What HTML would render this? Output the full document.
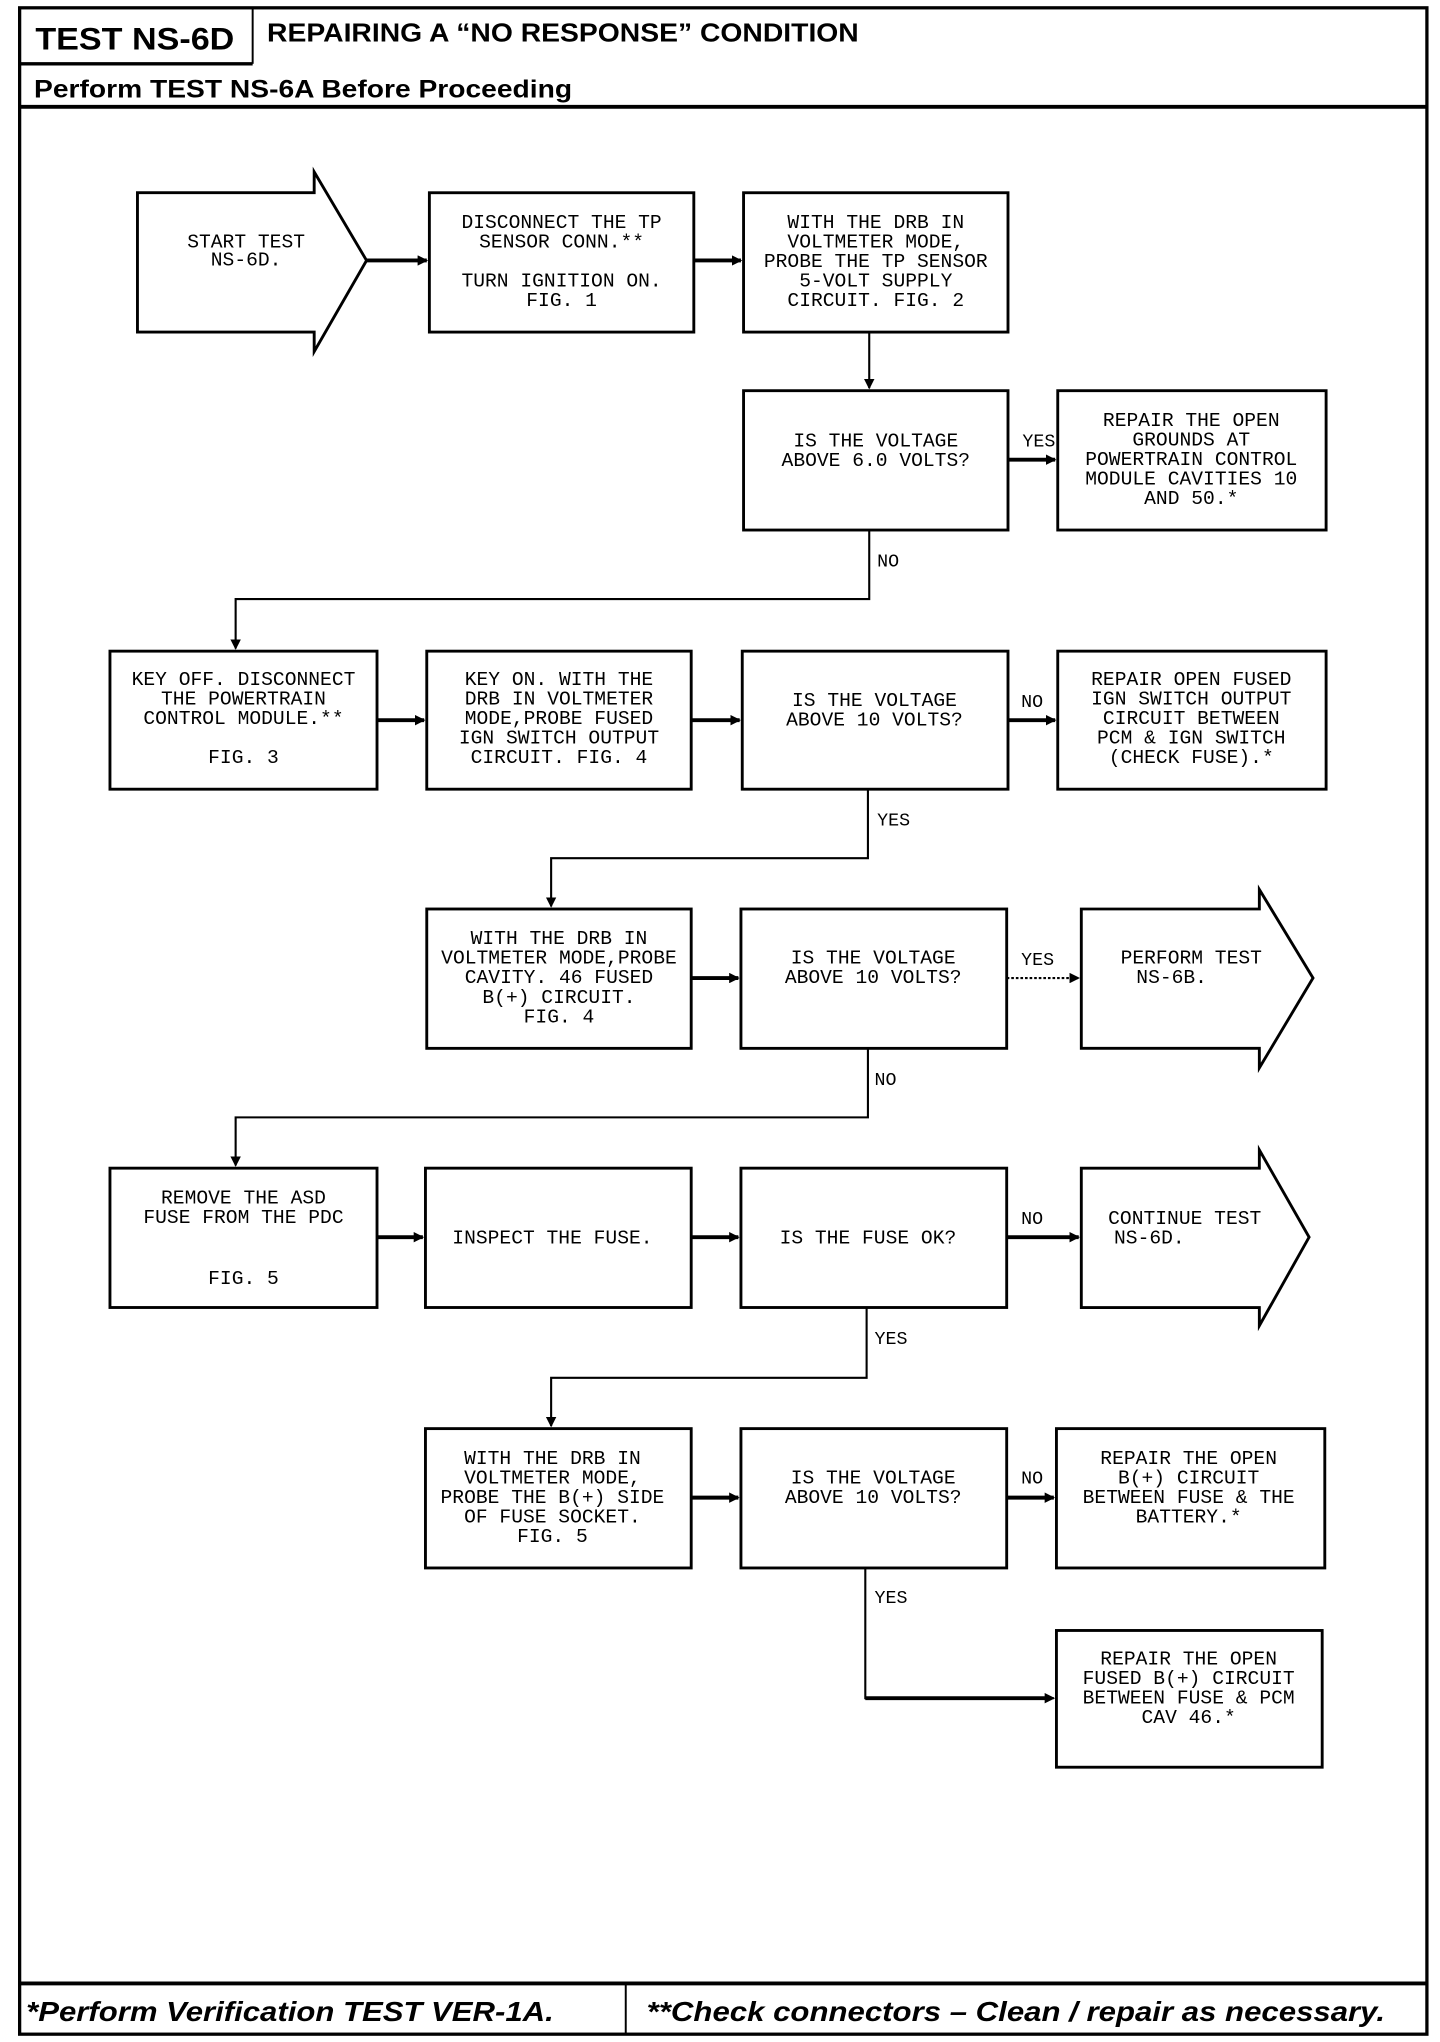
<!DOCTYPE html>
<html><head><meta charset="utf-8"><style>
html,body{margin:0;padding:0;background:#fff;width:1440px;height:2042px;overflow:hidden}
svg{display:block}
.t{font-family:"Liberation Mono",monospace;font-size:15px;text-anchor:middle;fill:#000}
.l{font-family:"Liberation Mono",monospace;font-size:14px;fill:#000}
.b{fill:#fff;stroke:#000;stroke-width:2.2}
.c{fill:none;stroke:#000;stroke-width:1.6}
.a{fill:none;stroke:#000;stroke-width:3}
</style></head><body>
<svg width="1440" height="2042" viewBox="0 0 1100 1568" preserveAspectRatio="none" xmlns="http://www.w3.org/2000/svg">
<defs><marker id="ar" markerWidth="8" markerHeight="8" refX="7" refY="4" orient="auto" markerUnits="userSpaceOnUse"><path d="M0,0 L8,4 L0,8 z" fill="#000"/></marker></defs>
<!-- frame -->
<rect x="15" y="6" width="1075" height="1556" fill="none" stroke="#000" stroke-width="2.5"/>
<line x1="15" y1="49" x2="193" y2="49" stroke="#000" stroke-width="2.5"/>
<line x1="193" y1="6" x2="193" y2="49" stroke="#000" stroke-width="1.5"/>
<line x1="15" y1="82" x2="1090" y2="82" stroke="#000" stroke-width="3"/>
<line x1="15" y1="1523" x2="1090" y2="1523" stroke="#000" stroke-width="3"/>
<line x1="478" y1="1523" x2="478" y2="1562" stroke="#000" stroke-width="1.5"/>
<text x="27" y="38" font-family="Liberation Sans,sans-serif" font-weight="bold" font-size="24" textLength="152" lengthAdjust="spacingAndGlyphs">TEST NS-6D</text>
<text x="204" y="32" font-family="Liberation Sans,sans-serif" font-weight="bold" font-size="20" textLength="452" lengthAdjust="spacingAndGlyphs">REPAIRING A “NO RESPONSE” CONDITION</text>
<text x="26" y="75" font-family="Liberation Sans,sans-serif" font-weight="bold" font-size="19" textLength="411" lengthAdjust="spacingAndGlyphs">Perform TEST NS-6A Before Proceeding</text>
<text x="20" y="1552" font-family="Liberation Sans,sans-serif" font-weight="bold" font-style="italic" font-size="21" textLength="403" lengthAdjust="spacingAndGlyphs">*Perform Verification TEST VER-1A.</text>
<text x="494" y="1552" font-family="Liberation Sans,sans-serif" font-weight="bold" font-style="italic" font-size="21" textLength="564" lengthAdjust="spacingAndGlyphs">**Check connectors – Clean / repair as necessary.</text>

<!-- connectors -->
<line class="a" x1="280" y1="200" x2="326" y2="200" marker-end="url(#ar)"/>
<line class="a" x1="530" y1="200" x2="566" y2="200" marker-end="url(#ar)"/>
<polyline class="c" points="664,255 664,298" marker-end="url(#ar)"/>
<line class="a" x1="770" y1="353" x2="806" y2="353" marker-end="url(#ar)"/>
<polyline class="c" points="664,407 664,460 180,460 180,498" marker-end="url(#ar)"/>
<line class="a" x1="288" y1="553" x2="324" y2="553" marker-end="url(#ar)"/>
<line class="a" x1="528" y1="553" x2="565" y2="553" marker-end="url(#ar)"/>
<line class="a" x1="770" y1="553" x2="806" y2="553" marker-end="url(#ar)"/>
<polyline class="c" points="663,606 663,659 421,659 421,696" marker-end="url(#ar)"/>
<line class="a" x1="528" y1="751" x2="564" y2="751" marker-end="url(#ar)"/>
<line class="c" x1="769" y1="751" x2="824" y2="751" stroke-dasharray="2,1.5" marker-end="url(#ar)"/>
<polyline class="c" points="663,805 663,858 180,858 180,895" marker-end="url(#ar)"/>
<line class="a" x1="288" y1="950" x2="323" y2="950" marker-end="url(#ar)"/>
<line class="a" x1="528" y1="950" x2="564" y2="950" marker-end="url(#ar)"/>
<line class="a" x1="769" y1="950" x2="824" y2="950" marker-end="url(#ar)"/>
<polyline class="c" points="662,1004 662,1058 421,1058 421,1095" marker-end="url(#ar)"/>
<line class="a" x1="528" y1="1150" x2="564" y2="1150" marker-end="url(#ar)"/>
<line class="a" x1="769" y1="1150" x2="805" y2="1150" marker-end="url(#ar)"/>
<polyline class="c" points="661,1204 661,1304 805,1304" marker-end="url(#ar)"/>
<polyline class="a" points="661,1304 803,1304"/>

<!-- labels -->
<text class="l" x="781" y="343">YES</text>
<text class="l" x="670" y="435">NO</text>
<text class="l" x="780" y="543">NO</text>
<text class="l" x="670" y="634">YES</text>
<text class="l" x="780" y="741">YES</text>
<text class="l" x="668" y="833">NO</text>
<text class="l" x="780" y="940">NO</text>
<text class="l" x="668" y="1032">YES</text>
<text class="l" x="780" y="1139">NO</text>
<text class="l" x="668" y="1231">YES</text>

<!-- start arrow -->
<polygon class="b" points="105,148 240,148 240,132 280,200 240,270 240,255 105,255"/>
<text class="t" x="188" y="190">START TEST</text><text class="t" x="188" y="204">NS-6D.</text>

<rect class="b" x="328" y="148" width="202" height="107"/>
<text class="t" x="429" y="175">DISCONNECT THE TP</text><text class="t" x="429" y="190">SENSOR CONN.**</text>
<text class="t" x="429" y="220">TURN IGNITION ON.</text><text class="t" x="429" y="235">FIG. 1</text>

<rect class="b" x="568" y="148" width="202" height="107"/>
<text class="t" x="669" y="175">WITH THE DRB IN</text><text class="t" x="669" y="190">VOLTMETER MODE,</text><text class="t" x="669" y="205">PROBE THE TP SENSOR</text><text class="t" x="669" y="220">5-VOLT SUPPLY</text><text class="t" x="669" y="235">CIRCUIT. FIG. 2</text>

<rect class="b" x="568" y="300" width="202" height="107"/>
<text class="t" x="669" y="343">IS THE VOLTAGE</text><text class="t" x="669" y="358">ABOVE 6.0 VOLTS?</text>

<rect class="b" x="808" y="300" width="205" height="107"/>
<text class="t" x="910" y="327">REPAIR THE OPEN</text><text class="t" x="910" y="342">GROUNDS AT</text><text class="t" x="910" y="357">POWERTRAIN CONTROL</text><text class="t" x="910" y="372">MODULE CAVITIES 10</text><text class="t" x="910" y="387">AND 50.*</text>

<rect class="b" x="84" y="500" width="204" height="106"/>
<text class="t" x="186" y="526">KEY OFF. DISCONNECT</text><text class="t" x="186" y="541">THE POWERTRAIN</text><text class="t" x="186" y="556">CONTROL MODULE.**</text><text class="t" x="186" y="586">FIG. 3</text>

<rect class="b" x="326" y="500" width="202" height="106"/>
<text class="t" x="427" y="526">KEY ON. WITH THE</text><text class="t" x="427" y="541">DRB IN VOLTMETER</text><text class="t" x="427" y="556">MODE,PROBE FUSED</text><text class="t" x="427" y="571">IGN SWITCH OUTPUT</text><text class="t" x="427" y="586">CIRCUIT. FIG. 4</text>

<rect class="b" x="567" y="500" width="203" height="106"/>
<text class="t" x="668" y="542">IS THE VOLTAGE</text><text class="t" x="668" y="557">ABOVE 10 VOLTS?</text>

<rect class="b" x="808" y="500" width="205" height="106"/>
<text class="t" x="910" y="526">REPAIR OPEN FUSED</text><text class="t" x="910" y="541">IGN SWITCH OUTPUT</text><text class="t" x="910" y="556">CIRCUIT BETWEEN</text><text class="t" x="910" y="571">PCM &amp; IGN SWITCH</text><text class="t" x="910" y="586">(CHECK FUSE).*</text>

<rect class="b" x="326" y="698" width="202" height="107"/>
<text class="t" x="427" y="725">WITH THE DRB IN</text><text class="t" x="427" y="740">VOLTMETER MODE,PROBE</text><text class="t" x="427" y="755">CAVITY. 46 FUSED</text><text class="t" x="427" y="770">B(+) CIRCUIT.</text><text class="t" x="427" y="785">FIG. 4</text>

<rect class="b" x="566" y="698" width="203" height="107"/>
<text class="t" x="667" y="740">IS THE VOLTAGE</text><text class="t" x="667" y="755">ABOVE 10 VOLTS?</text>

<polygon class="b" points="826,698 962,698 962,683 1003,751 962,820 962,805 826,805"/>
<text class="t" x="910" y="740">PERFORM TEST</text><text class="t" x="895" y="755">NS-6B.</text>

<rect class="b" x="84" y="897" width="204" height="107"/>
<text class="t" x="186" y="924">REMOVE THE ASD</text><text class="t" x="186" y="939">FUSE FROM THE PDC</text><text class="t" x="186" y="986">FIG. 5</text>

<rect class="b" x="325" y="897" width="203" height="107"/>
<text class="t" x="422" y="955">INSPECT THE FUSE.</text>

<rect class="b" x="566" y="897" width="203" height="107"/>
<text class="t" x="663" y="955">IS THE FUSE OK?</text>

<polygon class="b" points="826,897 962,897 962,883 1000,950 962,1018 962,1004 826,1004"/>
<text class="t" x="905" y="940">CONTINUE TEST</text><text class="t" x="878" y="955">NS-6D.</text>

<rect class="b" x="325" y="1097" width="203" height="107"/>
<text class="t" x="422" y="1124">WITH THE DRB IN</text><text class="t" x="422" y="1139">VOLTMETER MODE,</text><text class="t" x="422" y="1154">PROBE THE B(+) SIDE</text><text class="t" x="422" y="1169">OF FUSE SOCKET.</text><text class="t" x="422" y="1184">FIG. 5</text>

<rect class="b" x="566" y="1097" width="203" height="107"/>
<text class="t" x="667" y="1139">IS THE VOLTAGE</text><text class="t" x="667" y="1154">ABOVE 10 VOLTS?</text>

<rect class="b" x="807" y="1097" width="205" height="107"/>
<text class="t" x="908" y="1124">REPAIR THE OPEN</text><text class="t" x="908" y="1139">B(+) CIRCUIT</text><text class="t" x="908" y="1154">BETWEEN FUSE &amp; THE</text><text class="t" x="908" y="1169">BATTERY.*</text>

<rect class="b" x="807" y="1252" width="203" height="105"/>
<text class="t" x="908" y="1278">REPAIR THE OPEN</text><text class="t" x="908" y="1293">FUSED B(+) CIRCUIT</text><text class="t" x="908" y="1308">BETWEEN FUSE &amp; PCM</text><text class="t" x="908" y="1323">CAV 46.*</text>
</svg>
</body></html>
